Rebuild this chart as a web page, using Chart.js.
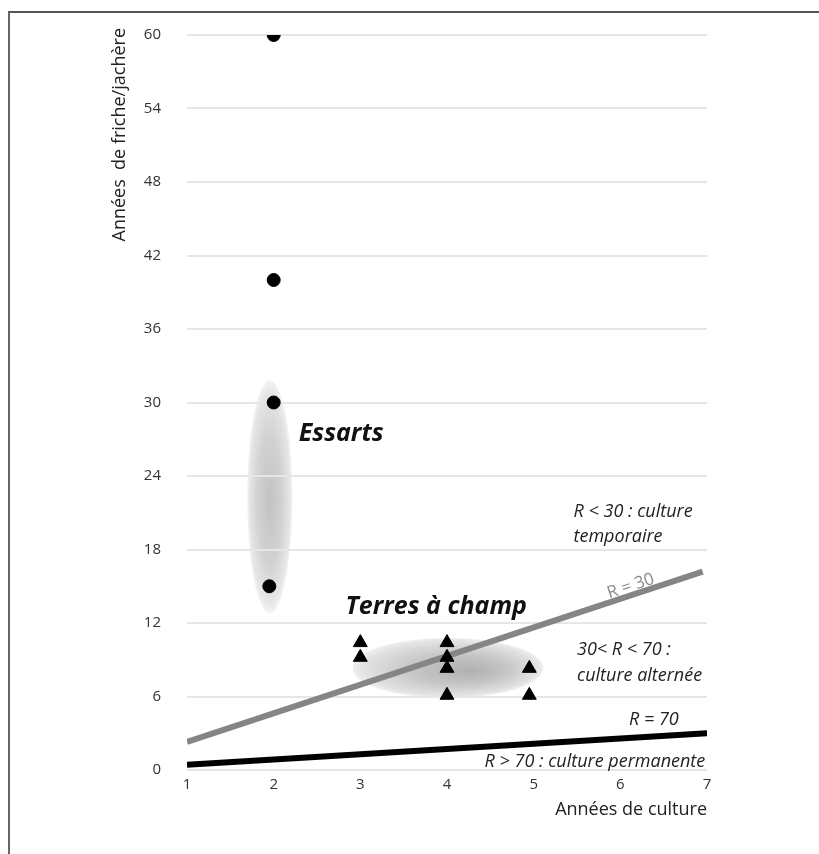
<!DOCTYPE html>
<html lang="fr">
<head>
<meta charset="UTF-8">
<title>Années de culture / années de friche</title>
<script src="https://cdn.jsdelivr.net/npm/chart.js"></script>
<style>
    body { margin: 0; background: #fff; }
    #frame {
        position: absolute; left: 8px; top: 11px; right: 0; bottom: 0;
        border-top: 2px solid #555; border-left: 2px solid #666;
    }
    #wrap { position: absolute; left: 0; top: 0; width: 819px; height: 854px; }
</style>
</head>
<body>
<div id="frame"></div>
<div id="wrap"><canvas id="chart" width="819" height="854"></canvas></div>
<script>
// Essarts (cercles)
const essartsX = [2, 2, 2, 1.95];
const essartsY = [60, 40, 30, 15];
// Terres à champ (triangles)
const champX = [3, 3, 4, 4, 4, 4, 4.95, 4.95];
const champY = [10.4, 9.2, 10.4, 9.2, 8.3, 6.1, 8.3, 6.1];
// droites R = 30 et R = 70
const r30X = [1, 6.95];
const r30Y = [2.3, 16.2];
const r70X = [1, 7];
const r70Y = [0.43, 3.0];
// zones grisées (centre et demi-axes en unités des axes)
const blobEssarts = [1.955, 22.3, 0.26, 9.5];
const blobChamp = [4.01, 8.33, 1.1, 2.45];

const toPoints = (xs, ys) => xs.map((x, i) => ({ x: x, y: ys[i] }));

const FONT = '"Open Sans", "Noto Sans", sans-serif';

const notes = [
    { text: 'Essarts', x: 2.29, y: 27.4, style: 'italic bold 25px', color: '#111', align: 'left' },
    { text: 'Terres à champ', x: 2.83, y: 13.3, style: 'italic bold 25px', color: '#111', align: 'left' },
    { text: 'R < 30 : culture', x: 5.46, y: 21.06, style: 'italic 18px', color: '#222', align: 'left' },
    { text: 'temporaire', x: 5.46, y: 19.0, style: 'italic 18px', color: '#222', align: 'left' },
    { text: '30< R < 70 :', x: 5.5, y: 9.8, style: 'italic 18px', color: '#222', align: 'left' },
    { text: 'culture alternée', x: 5.5, y: 7.67, style: 'italic 18px', color: '#222', align: 'left' },
    { text: 'R = 70', x: 6.1, y: 4.08, style: 'italic 18px', color: '#222', align: 'left' },
    { text: 'R > 70 : culture permanente', x: 6.98, y: 0.65, style: 'italic 18px', color: '#222', align: 'right' }
];

function drawBlob(ctx, xs, ys, b, fx, fy, stops) {
    const cx = xs.getPixelForValue(b[0]);
    const cy = ys.getPixelForValue(b[1]);
    const rx = Math.abs(xs.getPixelForValue(b[0] + b[2]) - cx);
    const ry = Math.abs(ys.getPixelForValue(b[1] + b[3]) - cy);
    ctx.save();
    ctx.translate(cx, cy);
    ctx.scale(rx, ry);
    const g = ctx.createRadialGradient(fx, fy, 0, 0, 0, 1);
    stops.forEach(s => g.addColorStop(s[0], s[1]));
    ctx.fillStyle = g;
    ctx.beginPath();
    ctx.arc(0, 0, 1, 0, Math.PI * 2);
    ctx.fill();
    ctx.restore();
}

const decor = {
    id: 'decor',
    beforeDraw(chart) {
        const { ctx, scales: { x, y } } = chart;
        drawBlob(ctx, x, y, blobEssarts, 0, 0.05,
            [[0, '#c2c2c2'], [0.55, '#d2d2d2'], [0.9, '#e6e6e6'], [1, '#f3f3f3']]);
        drawBlob(ctx, x, y, blobChamp, 0.25, 0.1,
            [[0, '#b0b0b0'], [0.5, '#c6c6c6'], [0.9, '#e2e2e2'], [1, '#efefef']]);
    },
    afterDatasetsDraw(chart) {
        const { ctx, scales: { x, y } } = chart;
        ctx.save();
        ctx.textBaseline = 'middle';
        notes.forEach(n => {
            ctx.font = n.style + ' ' + FONT;
            ctx.fillStyle = n.color;
            ctx.textAlign = n.align;
            ctx.fillText(n.text, x.getPixelForValue(n.x), y.getPixelForValue(n.y));
        });
        // étiquette de la droite R = 30, inclinée comme la droite
        const x0 = x.getPixelForValue(r30X[0]), y0 = y.getPixelForValue(r30Y[0]);
        const x1 = x.getPixelForValue(r30X[1]), y1 = y.getPixelForValue(r30Y[1]);
        ctx.save();
        ctx.translate(x.getPixelForValue(6.12), y.getPixelForValue(15.0));
        ctx.rotate(Math.atan2(y1 - y0, x1 - x0));
        ctx.font = '17px ' + FONT;
        ctx.fillStyle = '#8a8a8a';
        ctx.textAlign = 'center';
        ctx.fillText('R = 30', 0, 0);
        ctx.restore();
        // titre de l'axe vertical
        ctx.translate(y.left + 120, y.top - 7);
        ctx.rotate(-Math.PI / 2);
        ctx.font = '18px ' + FONT;
        ctx.fillStyle = '#222';
        ctx.textAlign = 'right';
        ctx.fillText('Années  de friche/jachère', 0, 0);
        ctx.restore();
    }
};

new Chart(document.getElementById('chart'), {
    type: 'scatter',
    data: {
        datasets: [
            {
                label: 'Essarts',
                data: toPoints(essartsX, essartsY),
                pointStyle: 'circle',
                pointRadius: 6.5,
                backgroundColor: '#000',
                borderColor: '#000',
                order: 0
            },
            {
                label: 'Terres à champ',
                data: toPoints(champX, champY),
                pointStyle: 'triangle',
                pointRadius: 8,
                backgroundColor: '#000',
                borderColor: '#000',
                order: 0
            },
            {
                label: 'R = 30',
                data: toPoints(r30X, r30Y),
                showLine: true,
                borderColor: '#858585',
                borderWidth: 6,
                pointRadius: 0,
                order: 1
            },
            {
                label: 'R = 70',
                data: toPoints(r70X, r70Y),
                showLine: true,
                borderColor: '#000',
                borderWidth: 6,
                pointRadius: 0,
                order: 1
            }
        ]
    },
    options: {
        responsive: false,
        animation: false,
        layout: { padding: { left: 0, top: 35, right: 112, bottom: 0 } },
        plugins: {
            legend: { display: false },
            tooltip: { enabled: false }
        },
        scales: {
            x: {
                type: 'linear',
                min: 1,
                max: 7,
                afterFit: s => { s.height = 84; },
                grid: { display: false, drawTicks: false },
                border: { display: false },
                ticks: { stepSize: 1, padding: 6, color: '#333', font: { family: FONT, size: 15 } },
                title: {
                    display: true,
                    text: 'Années de culture',
                    align: 'end',
                    color: '#222',
                    font: { family: FONT, size: 18 },
                    padding: { top: 0, bottom: 33 }
                }
            },
            y: {
                min: 0,
                max: 60,
                afterFit: s => { s.width = 187; },
                grid: { color: '#e6e6e6', lineWidth: 2, drawTicks: false },
                border: { display: false },
                ticks: { stepSize: 6, padding: 26, color: '#333', font: { family: FONT, size: 15 } },
                title: { display: false }
            }
        }
    },
    plugins: [decor]
});
</script>
</body>
</html>
